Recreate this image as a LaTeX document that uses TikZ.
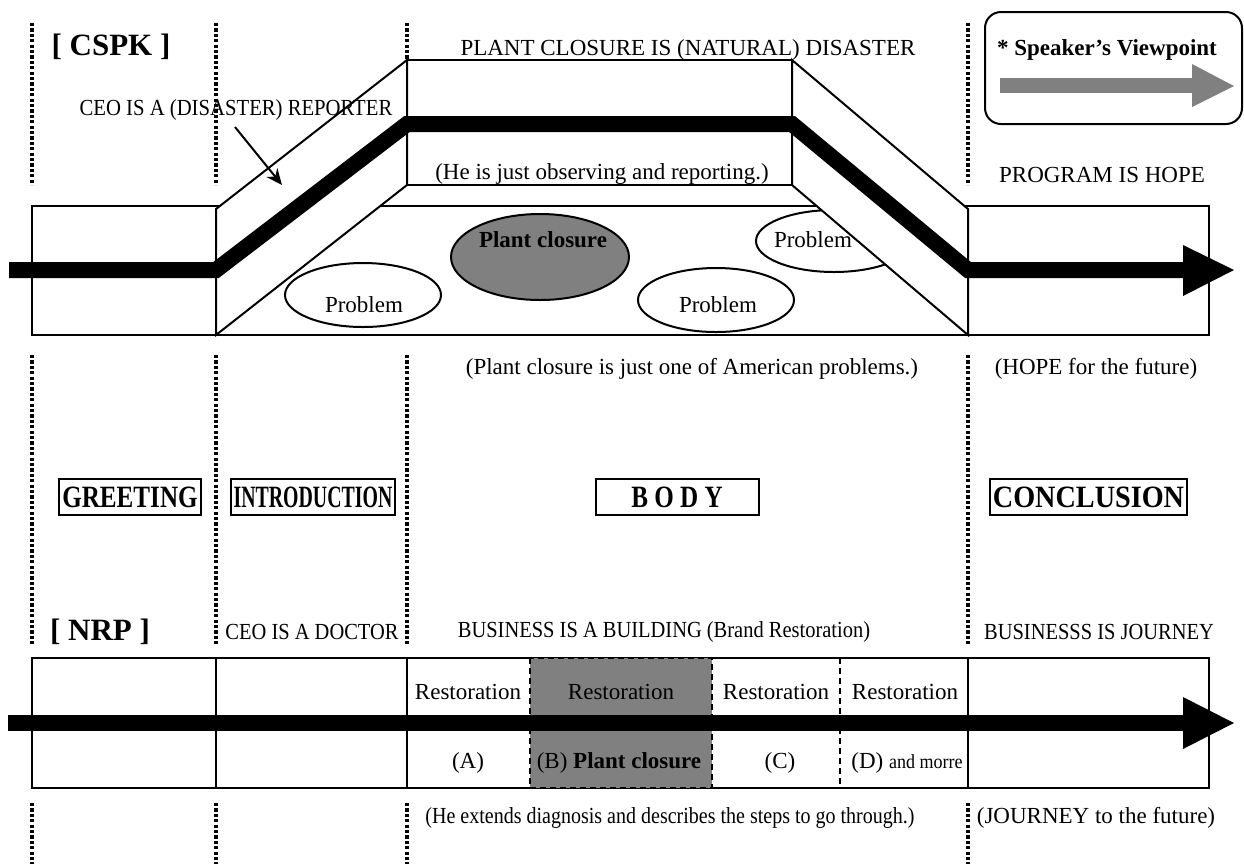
\documentclass[tikz,border=0pt]{standalone}
\usepackage{fontspec}
\setmainfont{Liberation Serif}
\usepackage{graphicx}
\usetikzlibrary{shapes.geometric,arrows.meta}
\definecolor{midgray}{RGB}{128,128,128}
\newcommand{\cx}[2]{\scalebox{#1}[1]{#2}}
\begin{document}
\begin{tikzpicture}[x=0.5pt,y=-0.5pt,
 txt/.style={inner sep=0pt, font=\fontsize{11.5}{13.8}\selectfont},
 btxt/.style={inner sep=0pt, font=\fontsize{11.5}{13.8}\selectfont\bfseries},
 big/.style={inner sep=0pt, font=\fontsize{15.5}{18}\selectfont\bfseries},
 dotline/.style={line width=1.6pt, dash pattern=on 1.6pt off 1.1pt},
 frame/.style={line width=1pt},
 flow/.style={line width=8pt, line join=miter, line cap=butt},
 secbox/.style={draw, line width=1pt, minimum height=18pt, inner sep=0pt, font=\fontsize{15.5}{18}\selectfont\bfseries},
 oval/.style={ellipse, draw, line width=1pt, fill=white, inner sep=0pt},
 dashdiv/.style={line width=1pt, dash pattern=on 3pt off 2pt},
]
\useasboundingbox (0,0) rectangle (1244,864);

% dotted section separators
\foreach \x in {32,216,407,968} {
  \draw[dotline] (\x,23) -- (\x,185);
  \draw[dotline] (\x,355) -- (\x,645);
  \draw[dotline] (\x,803) -- (\x,864);
}

% ---------- CSPK ----------
\draw[frame, fill=white] (32,206) rectangle (1209,335);
\node[oval, fill=midgray, minimum width=89pt, minimum height=43pt] (pc) at (540,257) {};
\node[oval, minimum width=78pt, minimum height=32pt] (p1) at (363,295) {};
\node[oval, minimum width=78pt, minimum height=32pt] (p2) at (716,300) {};
\node[oval, minimum width=78pt, minimum height=31pt] (p3) at (834,241) {};

\draw[frame, fill=white] (407,60) rectangle (792,185);
\draw[frame, fill=white] (216,209) -- (407,60) -- (407,185) -- (216,335) -- cycle;
\draw[frame, fill=white] (792,60) -- (968,209) -- (968,335) -- (792,185) -- cycle;

\node[btxt] (pct) at (543,240) {Plant closure};
\node[txt] (p1t) at (364,305) {Problem};
\node[txt] (p2t) at (718,305) {Problem};
\node[txt] (p3t) at (813,240) {Problem};

\draw[flow] (9,270) -- (216,270) -- (407,124) -- (792,124) -- (968,270) -- (1186,270);
\fill (1183,245) -- (1234,270) -- (1183,296) -- cycle;

\node[big] (cspk) at (111,47) {[ CSPK ]};
\node[txt] (rep) at (236,110) {\cx{0.9}{CEO IS A (DISASTER) REPORTER}};
\coordinate (repA) at (235,127);
\coordinate (repB) at (282,185);
\draw[line width=1pt, -{Stealth[length=8pt,width=7pt]}] (repA) -- (repB);
\node[txt] (pcd) at (688,50) {PLANT CLOSURE IS (NATURAL) DISASTER};
\node[txt] (obs) at (602,174) {(He is just observing and reporting.)};
\node[txt] (hope) at (1102,175) {PROGRAM IS HOPE};
\node[txt] (amer) at (692,369) {(Plant closure is just one of American problems.)};
\node[txt] (fut) at (1096,369) {(HOPE for the future)};

% legend
\node[draw, line width=1pt, rounded corners=8pt, minimum width=128.5pt, minimum height=56pt] (legend) at (1113.5,68) {};
\node[btxt] (sv) at (1107,50) {* Speaker’s Viewpoint};
\fill[midgray] (1000,78) rectangle (1193,93);
\fill[midgray] (1192,64) -- (1234,86) -- (1192,107) -- cycle;

% ---------- section boxes ----------
\node[secbox, minimum width=71pt] (greet) at (130,497) {\cx{0.81}{GREETING}};
\node[secbox, minimum width=82pt] (intro) at (313,497) {\cx{0.64}{INTRODUCTION}};
\node[secbox, minimum width=81.5pt] (body) at (677,497) {\cx{0.81}{B O D Y}};
\node[secbox, minimum width=98.5pt] (concl) at (1088.5,497) {\cx{0.91}{CONCLUSION}};

% ---------- NRP ----------
\node[big] (nrp) at (100,632) {[ NRP ]};
\node[txt] (doc) at (312,632) {\cx{0.89}{CEO IS A DOCTOR}};
\node[txt] (bld) at (664,632) {\cx{0.89}{BUSINESS IS A BUILDING (Brand Restoration)}};
\node[txt] (jrn) at (1099,632) {\cx{0.89}{BUSINESSS IS JOURNEY}};

\draw[frame] (32,658) rectangle (1209,788);
\draw[dashdiv, fill=midgray] (530,658) rectangle (712,788);
\foreach \x in {216,407,968} { \draw[frame] (\x,658) -- (\x,788); }
\draw[dashdiv] (840,658) -- (840,788);

\node[txt] (ra) at (468,692) {Restoration};
\node[txt] (rb) at (621,692) {Restoration};
\node[txt] (rc) at (776,692) {Restoration};
\node[txt] (rd) at (905,692) {Restoration};

\draw[flow] (8,723) -- (1186,723);
\fill (1183,697) -- (1234,723) -- (1183,749) -- cycle;

\node[txt] (la) at (468,763) {(A)};
\node[txt] (lb) at (619,763) {(B) \textbf{Plant closure}};
\node[txt] (lc) at (780,763) {(C)};
\node[txt] (ld) at (907,763) {(D) {\fontsize{10}{12}\selectfont\cx{0.9}{and morre}}};

\node[txt] (ext) at (670,818) {\cx{0.87}{(He extends diagnosis and describes the steps to go through.)}};
\node[txt] (jfut) at (1096,818) {(JOURNEY to the future)};
\end{tikzpicture}
\end{document}
